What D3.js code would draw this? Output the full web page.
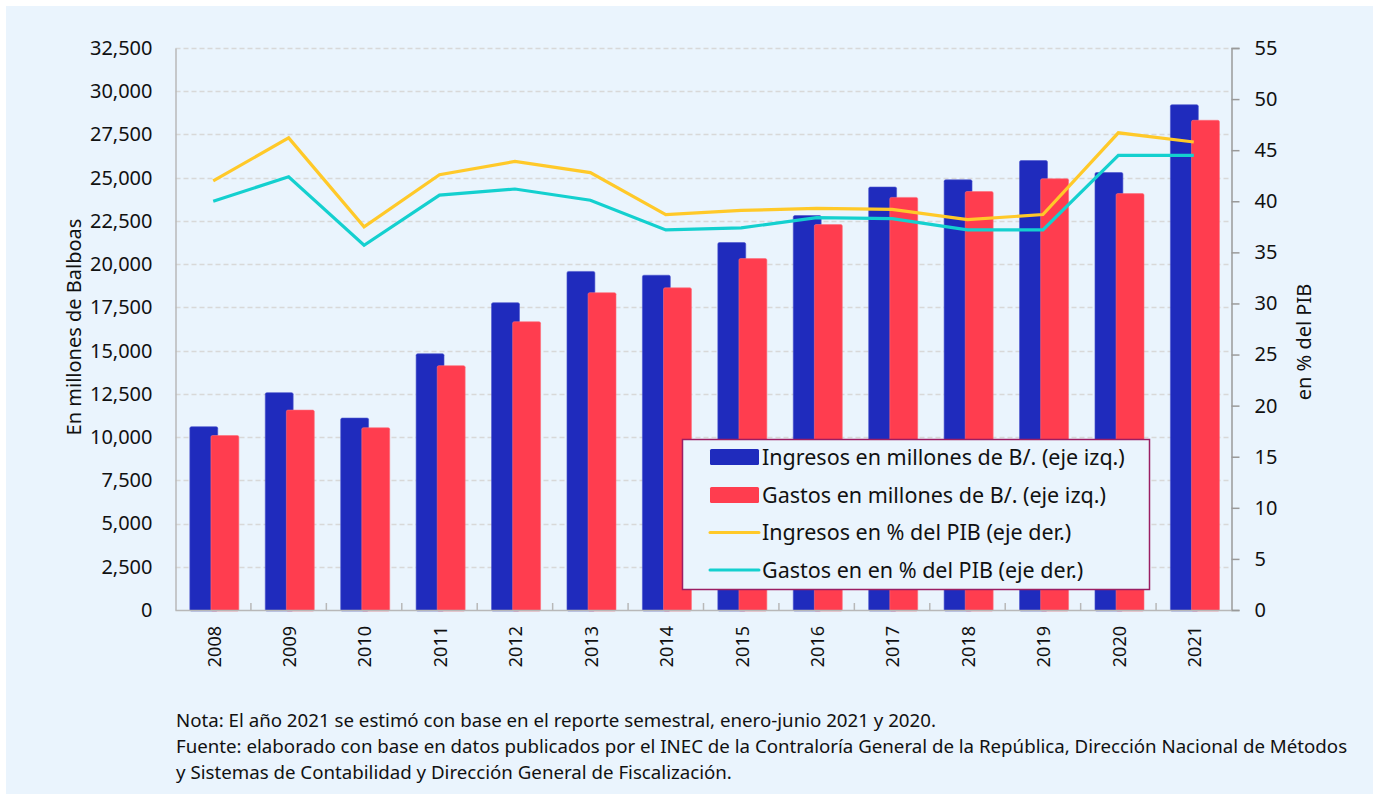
<!DOCTYPE html>
<html>
<head>
<meta charset="utf-8">
<script src="https://cdn.jsdelivr.net/npm/d3@7"></script>
<style>
  html, body { margin: 0; padding: 0; background: #ffffff; }
  svg { display: block; font-family: "Noto Sans", "Open Sans", sans-serif; }
</style>
</head>
<body>
<svg id="chart" width="1373" height="794"></svg>
<script>
// Panamá: ingresos y gastos del gobierno central, 2008-2021
const years = ["2008","2009","2010","2011","2012","2013","2014","2015","2016","2017","2018","2019","2020","2021"];
const ingresosMill = [10600, 12570, 11100, 14820, 17770, 19580, 19360, 21250, 22810, 24460, 24880, 25990, 25300, 29220];
const gastosMill   = [10090, 11560, 10540, 14130, 16670, 18350, 18630, 20320, 22290, 23860, 24200, 24940, 24080, 28320];
const ingresosPIB  = [42.0, 46.2, 37.5, 42.6, 43.9, 42.8, 38.7, 39.1, 39.3, 39.2, 38.2, 38.7, 46.7, 45.8];
const gastosPIB    = [40.0, 42.4, 35.7, 40.6, 41.2, 40.1, 37.2, 37.4, 38.4, 38.3, 37.2, 37.2, 44.5, 44.5];
const leftTicks  = d3.range(0, 32501, 2500);
const rightTicks = d3.range(0, 56, 5);
const legendLabels = [
  "Ingresos en millones de B/. (eje izq.)",
  "Gastos en millones de B/. (eje izq.)",
  "Ingresos en % del PIB (eje der.)",
  "Gastos en en % del PIB (eje der.)"
];
const notes = [
  "Nota: El año 2021 se estimó con base en el reporte semestral, enero-junio 2021 y 2020.",
  "Fuente: elaborado con base en datos publicados por el INEC de la Contraloría General de la República, Dirección Nacional de Métodos",
  "y Sistemas de Contabilidad y Dirección General de Fiscalización."
];

const colors = { ing: "#1f2bbd", gas: "#ff3d4f", ingPib: "#ffc929", gasPib: "#14d0cf" };

const svg = d3.select("#chart");
const W = 1373, H = 794;
const m = { left: 175.5, right: 1231.5, top: 48, bottom: 610 };

// panel background
svg.append("rect").attr("x", 6).attr("y", 6).attr("width", W - 6).attr("height", H - 6).attr("fill", "#eaf4fd");

const x = d3.scaleBand().domain(years).range([m.left, m.right]).paddingInner(0).paddingOuter(0);
const yL = d3.scaleLinear().domain([0, 32500]).range([m.bottom, m.top]);
const yR = d3.scaleLinear().domain([0, 55]).range([m.bottom, m.top]);

// dashed gridlines
svg.append("g")
  .selectAll("line")
  .data(leftTicks.filter(d => d > 0))
  .join("line")
  .attr("x1", m.left).attr("x2", m.right)
  .attr("y1", d => Math.round(yL(d)) + 0.5).attr("y2", d => Math.round(yL(d)) + 0.5)
  .attr("stroke", "#d8d8d8").attr("stroke-width", 1.5).attr("stroke-dasharray", "5,3");

// bars
const bw = x.bandwidth();
const barW = bw * 0.37;
const blueOff = bw * 0.19;
const redOff = bw * 0.47;
const bars = svg.append("g");
bars.selectAll("rect.ing")
  .data(years.map((y, i) => ({ y, v: ingresosMill[i] })))
  .join("rect").attr("class", "ing")
  .attr("x", d => x(d.y) + blueOff).attr("width", barW)
  .attr("y", d => yL(d.v)).attr("height", d => yL(0) - yL(d.v) + 1)
  .attr("rx", 1.5)
  .attr("fill", colors.ing).attr("stroke", "#4a54cc").attr("stroke-width", 0.6);
bars.selectAll("rect.gas")
  .data(years.map((y, i) => ({ y, v: gastosMill[i] })))
  .join("rect").attr("class", "gas")
  .attr("x", d => x(d.y) + redOff).attr("width", barW)
  .attr("y", d => yL(d.v)).attr("height", d => yL(0) - yL(d.v) + 1)
  .attr("rx", 1.5)
  .attr("fill", colors.gas).attr("stroke", "#ff6b78").attr("stroke-width", 0.6);

// axes
const axisColor = "#b8b8b8";
const leftAxis = svg.append("g").attr("transform", `translate(${m.left},0)`)
  .call(d3.axisLeft(yL).tickValues(leftTicks).tickSize(0).tickPadding(23).tickFormat(d3.format(",")));
leftAxis.select(".domain").attr("stroke", axisColor).attr("stroke-width", 1.5);
leftAxis.selectAll("text").attr("font-size", 20).attr("fill", "#111").attr("font-family", "Noto Sans");

const rightAxis = svg.append("g").attr("transform", `translate(${m.right},0)`)
  .call(d3.axisRight(yR).tickValues(rightTicks).tickSize(8).tickPadding(15));
rightAxis.select(".domain").attr("stroke", "#9a9a9a").attr("stroke-width", 1.5);
rightAxis.selectAll(".tick line").attr("stroke", "#9a9a9a").attr("stroke-width", 1.5);
rightAxis.selectAll("text").attr("font-size", 20).attr("fill", "#111").attr("font-family", "Noto Sans");

// bottom axis with inward ticks at category boundaries
const bottom = svg.append("g");
bottom.append("line")
  .attr("x1", m.left).attr("x2", m.right).attr("y1", m.bottom + 0.5).attr("y2", m.bottom + 0.5)
  .attr("stroke", axisColor).attr("stroke-width", 1.5);
bottom.selectAll("line.tk")
  .data(years.slice(1))
  .join("line").attr("class", "tk")
  .attr("x1", d => x(d)).attr("x2", d => x(d))
  .attr("y1", m.bottom).attr("y2", m.bottom - 7)
  .attr("stroke", axisColor).attr("stroke-width", 1.5);
bottom.selectAll("text")
  .data(years)
  .join("text")
  .attr("transform", d => `translate(${x(d) + bw / 2 + 1},${m.bottom + 16}) rotate(-90)`)
  .attr("text-anchor", "end").attr("dy", "0.35em")
  .attr("font-size", 18).attr("fill", "#111")
  .text(d => d);

// percentage lines
const line = d3.line().x((d, i) => x(years[i]) + bw / 2).y(d => yR(d));
svg.append("path").datum(ingresosPIB).attr("d", line)
  .attr("fill", "none").attr("stroke", colors.ingPib).attr("stroke-width", 3.2);
svg.append("path").datum(gastosPIB).attr("d", line)
  .attr("fill", "none").attr("stroke", colors.gasPib).attr("stroke-width", 3.2);

// axis titles
svg.append("text")
  .attr("transform", `translate(81,327) rotate(-90)`)
  .attr("text-anchor", "middle").attr("font-size", 20).attr("fill", "#111")
  .text("En millones de Balboas");
svg.append("text")
  .attr("transform", `translate(1311,342) rotate(-90)`)
  .attr("text-anchor", "middle").attr("font-size", 20).attr("fill", "#111")
  .text("en % del PIB");

// legend
const lg = svg.append("g");
lg.append("rect").attr("x", 682.5).attr("y", 439.5).attr("width", 467).attr("height", 150)
  .attr("fill", "#eaf4fd").attr("stroke", "#9b1d63").attr("stroke-width", 1.5);
const rowsY = [457, 495, 532.5, 570];
const legendKeys = [
  { type: "rect", color: colors.ing },
  { type: "rect", color: colors.gas },
  { type: "line", color: colors.ingPib },
  { type: "line", color: colors.gasPib }
];
legendKeys.forEach((k, i) => {
  if (k.type === "rect") {
    lg.append("rect").attr("x", 710).attr("y", rowsY[i] - 8).attr("width", 49).attr("height", 16)
      .attr("rx", 1.5).attr("fill", k.color);
  } else {
    lg.append("line").attr("x1", 710).attr("x2", 759).attr("y1", rowsY[i]).attr("y2", rowsY[i])
      .attr("stroke", k.color).attr("stroke-width", 3).attr("stroke-linecap", "round");
  }
  lg.append("text").attr("x", 762).attr("y", rowsY[i]).attr("dy", "0.35em")
    .attr("font-size", 21.5).attr("fill", "#111").text(legendLabels[i]);
});

// notes
svg.append("g").selectAll("text")
  .data(notes)
  .join("text")
  .attr("x", 176).attr("y", (d, i) => 720 + i * 26).attr("dy", "0.35em")
  .attr("font-size", 18.7).attr("fill", "#111")
  .text(d => d);
</script>
</body>
</html>
